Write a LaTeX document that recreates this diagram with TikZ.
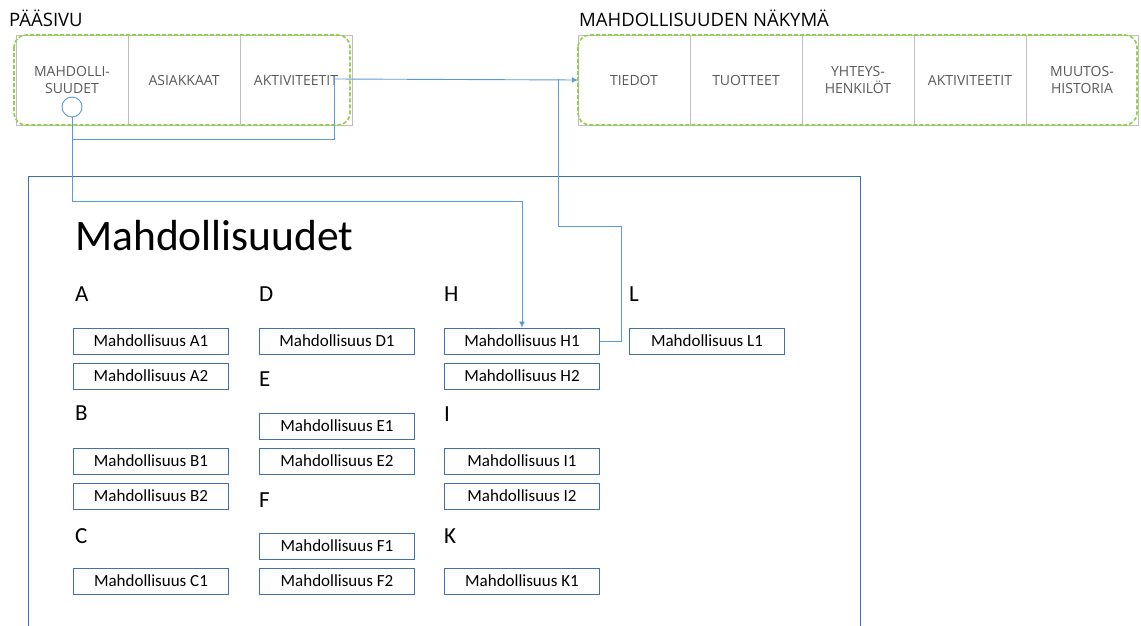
\documentclass[tikz,border=0pt]{standalone}
\usepackage{fontspec}
\setmainfont{Carlito}
\newfontfamily\tabfont{Open Sans}
\usetikzlibrary{arrows.meta}

\definecolor{linkblue}{RGB}{91,155,213}
\definecolor{boxblue}{RGB}{65,113,170}
\definecolor{tabgreen}{RGB}{146,208,80}
\definecolor{tabgrey}{RGB}{191,191,191}
\definecolor{tabtext}{RGB}{89,89,89}

\begin{document}
\begin{tikzpicture}[x=1pt,y=-1pt,
    optbox/.style={draw=boxblue, line width=1pt, anchor=west, minimum width=155pt,
        minimum height=26pt, inner sep=0pt, font=\fontsize{17}{17}\selectfont},
    letter/.style={anchor=west, inner sep=0pt, font=\fontsize{23}{23}\selectfont},
    tab/.style={draw=tabgrey, minimum width=112pt, minimum height=90pt, inner sep=0pt,
        align=center, text=tabtext, font=\tabfont\fontsize{14}{17}\selectfont},
    header/.style={anchor=west, inner sep=0pt, font=\tabfont\fontsize{18.5}{18.5}\selectfont},
    link/.style={draw=linkblue, line width=0.9pt},
    arrow/.style={-{Latex[length=6pt,width=6pt]}}
]
    \useasboundingbox (0,0) rectangle (1141,626);

    % Main page tabs
    \node[header] (mainhead) at (9,18) {PÄÄSIVU};
    \node[tab] (tabopp) at (72,80) {MAHDOLLI-\\SUUDET};
    \node[tab] (tabcust) at (184,80) {ASIAKKAAT};
    \node[tab] (tabact) at (296,80) {AKTIVITEETIT};
    \draw[tabgreen, line width=1.6pt, dash pattern=on 4pt off 2pt, rounded corners=12pt]
        (14,35) rectangle (350,125);
    \node[circle, draw=linkblue, line width=0.9pt, minimum size=20pt, inner sep=0pt] (pick) at (72,107) {};

    % Opportunity view tabs
    \node[header] (viewhead) at (579,18) {MAHDOLLISUUDEN NÄKYMÄ};
    \node[tab] (tabinfo) at (634,80) {TIEDOT};
    \node[tab] (tabprod) at (746,80) {TUOTTEET};
    \node[tab] (tabcont) at (858,80) {YHTEYS-\\HENKILÖT};
    \node[tab] (tabvact) at (970,80) {AKTIVITEETIT};
    \node[tab] (tabhist) at (1082,80) {MUUTOS-\\HISTORIA};
    \draw[tabgreen, line width=1.6pt, dash pattern=on 4pt off 2pt, rounded corners=12pt]
        (578,35) rectangle (1137,125);

    % Opportunity list page
    \draw[boxblue, line width=0.8pt] (28,626) -- (28,176) -- (860,176) -- (860,626);
    \node[anchor=base west, inner sep=0pt, font=\fontsize{43.5}{43.5}\selectfont] (title) at (75,250) {Mahdollisuudet};

    \foreach \col/\row/\ch in {75/294/A, 75/413/B, 75/536/C, 259/294/D, 259/379/E, 259/500/F,
        444/294/H, 444/414/I, 444/536/K, 629/294/L} {
        \node[letter] (grp\ch) at (\col,\row) {\ch};
    }
    \foreach \col/\row/\name in {73/341/A1, 73/376/A2, 73/461/B1, 73/496/B2, 73/581/C1,
        259/341/D1, 259/426/E1, 259/461/E2, 259/546/F1, 259/581/F2,
        444/341/H1, 444/376/H2, 444/461/I1, 444/496/I2, 444/581/K1, 629/341/L1} {
        \node[optbox] (opt\name) at (\col,\row) {Mahdollisuus \name};
    }

    % Links
    \coordinate (actend) at (334,79);
    \draw[link, arrow] (pick.south) -- (72,201) -| (optH1.north);
    \draw[link] (72,139) -| (actend);
    \draw[link, arrow] (actend) -- (tabinfo.west);
    \draw[link] (optH1.east) -| (621,226) -| (558,79);
\end{tikzpicture}
\end{document}
